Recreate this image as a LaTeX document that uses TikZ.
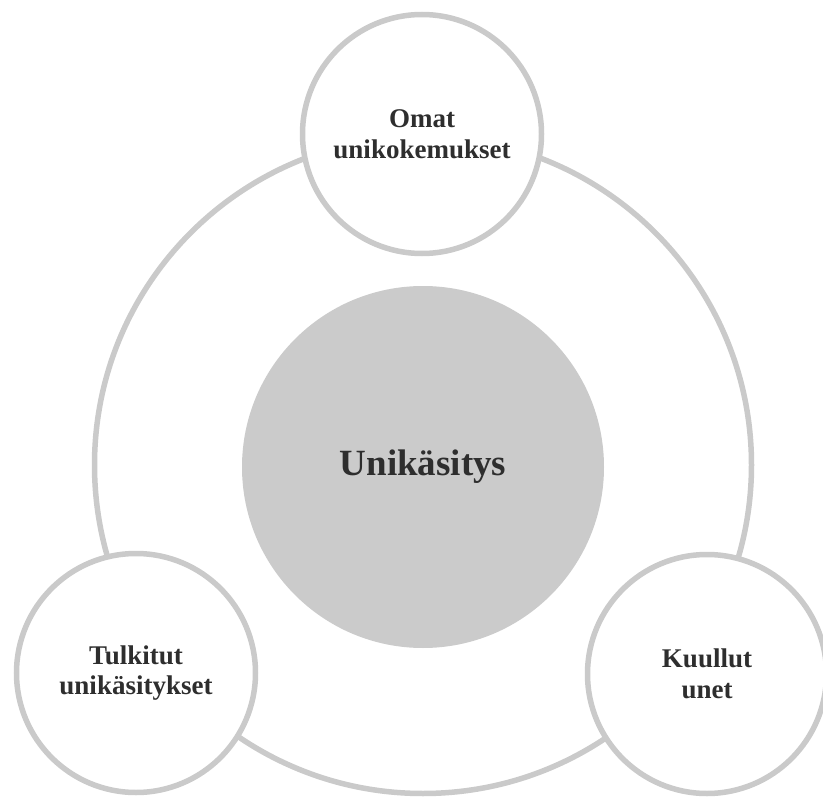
\documentclass[tikz,border=0pt]{standalone}
\usepackage{fontspec}
\setmainfont{Liberation Serif}
\definecolor{ringgray}{HTML}{CACACA}
\definecolor{corefill}{HTML}{CBCBCB}
\definecolor{inktext}{HTML}{2E2E2E}
\begin{document}
\begin{tikzpicture}[x=1pt,y=-1pt,
  ring/.style={circle, draw=ringgray, line width=5.5pt, inner sep=0pt},
  satellite/.style={ring, fill=white, minimum size=239pt, align=center,
    text=inktext, font=\bfseries\fontsize{27}{30.5}\selectfont},
  core/.style={circle, fill=corefill, inner sep=0pt, minimum size=362pt,
    text=inktext, font=\bfseries\fontsize{37}{42}\selectfont}
]
\useasboundingbox (0,0) rectangle (823,800);
% outer ring and central disc
\node[ring, minimum size=657pt] (outer) at (423,465) {};
\node[core] (centre) at (423,467) {Unikäsitys};
% three satellite circles around the ring
\node[satellite] (own)   at (422,134) {Omat\\unikokemukset};
\node[satellite] (told)  at (136,673) {Tulkitut\\unikäsitykset};
\node[satellite] (heard) at (707,674) {Kuullut\\unet};
\end{tikzpicture}
\end{document}
